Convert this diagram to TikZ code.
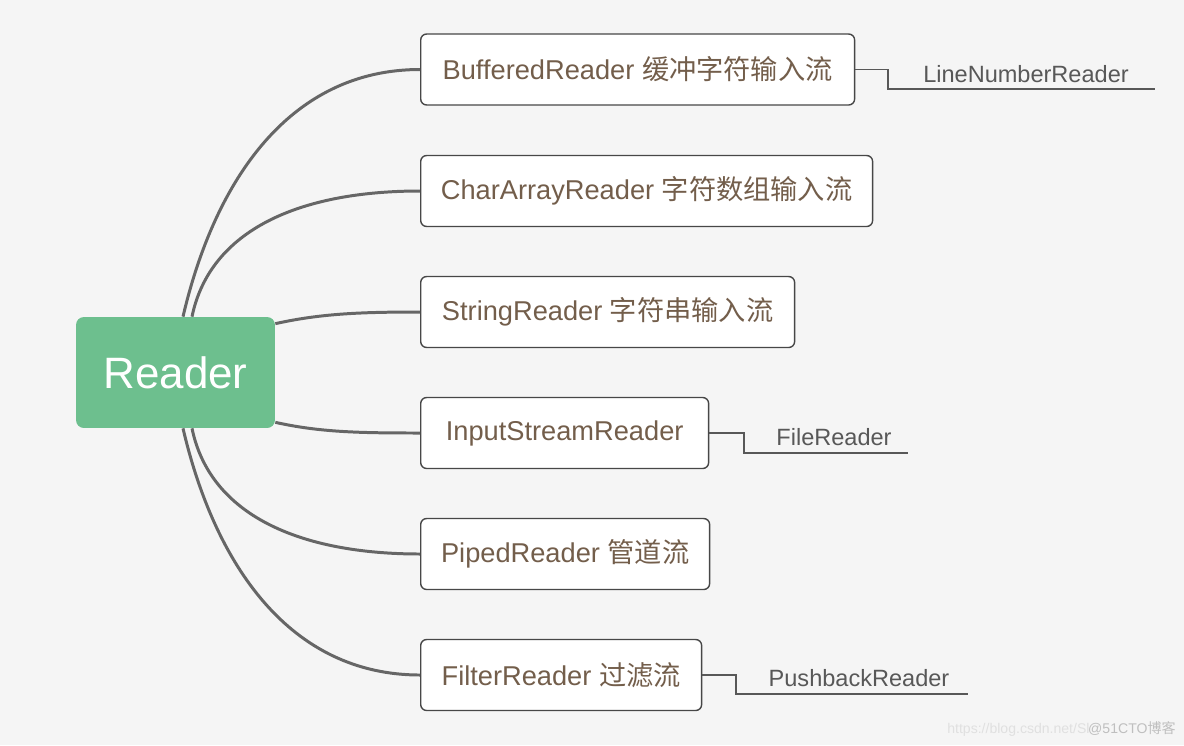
\documentclass[tikz,border=0pt]{standalone}
\usepackage{fontspec}
\setmainfont{Liberation Sans}
\newfontfamily\cjk{Noto Sans CJK SC}
\usetikzlibrary{calc}
\definecolor{bg}{HTML}{F5F5F5}
\definecolor{rootgreen}{HTML}{6DBF8E}
\definecolor{branchgray}{HTML}{666666}
\definecolor{boxtext}{HTML}{735E4B}
\definecolor{leafgray}{HTML}{585858}
\def\drawbranch{\draw[color=branchgray, line width=1.7pt]}
\def\drawleaf{\draw[color=leafgray, line width=0.8pt]}
\def\kindnode{\node[draw=black!72, fill=white, rounded corners=3.4pt, line width=0.8pt, anchor=west, minimum height=1.42cm, text=boxtext, font=\fontsize{15.5}{18}\selectfont]}
\def\leafnode{\node[anchor=base, text=leafgray, inner sep=0pt, font=\fontsize{13.4}{16}\selectfont]}

\begin{document}
\begin{tikzpicture}[x=0.02cm,y=-0.02cm]
\fill[bg] (0,0) rectangle (1184,745);
\useasboundingbox (0,0) rectangle (1184,745);

% ---------- the root
\node[fill=rootgreen, rounded corners=4.5pt, minimum width=3.98cm, minimum height=2.22cm, text=white, font=\fontsize{25}{30}\selectfont] (root) at (175.5,372.5) {Reader};

% ---------- the six readers, all left edges at x = 420
\kindnode[minimum width=8.68cm] (buffered) at (420,69.5) {BufferedReader {\cjk 缓冲字符输入流}};
\kindnode[minimum width=9.04cm] (chararray) at (420,191) {CharArrayReader {\cjk 字符数组输入流}};
\kindnode[minimum width=7.48cm] (string) at (420,312) {StringReader {\cjk 字符串输入流}};
\kindnode[minimum width=5.76cm] (inputstream) at (420,433) {InputStreamReader};
\kindnode[minimum width=5.78cm] (piped) at (420,554) {PipedReader {\cjk 管道流}};
\kindnode[minimum width=5.62cm] (filter) at (420,675) {FilterReader {\cjk 过滤流}};

% branches out of the root (top pair, side pair, bottom pair)
\drawbranch ($(root.north)+(7.5,0)$) .. controls +(32,-137) and +(-130,0) .. (buffered.west);
\drawbranch ($(root.north)+(16.5,0)$) .. controls +(18,-87) and +(-120,0) .. (chararray.west);
\drawbranch ($(root.north east)+(0,7)$) .. controls +(45,-10) and +(-60,0) .. (string.west);
\drawbranch ($(root.south east)+(0,-6)$) .. controls +(45,10) and +(-60,0) .. (inputstream.west);
\drawbranch ($(root.south)+(16.5,0)$) .. controls +(18,87) and +(-120,0) .. (piped.west);
\drawbranch ($(root.south)+(7.5,0)$) .. controls +(32,137) and +(-130,0) .. (filter.west);

% ---------- subclasses hanging off the right side
\coordinate (lnr_turn) at (888,89);
\coordinate (lnr_end) at (1155,89);
\drawleaf (buffered.east) -| (lnr_turn) -- (lnr_end);
\leafnode (linenumber) at (1026,82) {LineNumberReader};

\coordinate (file_turn) at (744,453);
\coordinate (file_end) at (908,453);
\drawleaf (inputstream.east) -| (file_turn) -- (file_end);
\leafnode (file) at (834,445) {FileReader};

\coordinate (push_turn) at (736,694);
\coordinate (push_end) at (968,694);
\drawleaf (filter.east) -| (push_turn) -- (push_end);
\leafnode (pushback) at (859,686) {PushbackReader};

% watermark
\node[anchor=base west, inner sep=0pt, text=black!12, font=\fontsize{8}{10}\selectfont] (csdn) at (947,733) {https://blog.csdn.net/Sl};
\node[anchor=base east, inner sep=0pt, text=black!25, font=\fontsize{8}{10}\selectfont] (cto) at (1176,733) {@51CTO{\cjk 博客}};
\end{tikzpicture}
\end{document}
